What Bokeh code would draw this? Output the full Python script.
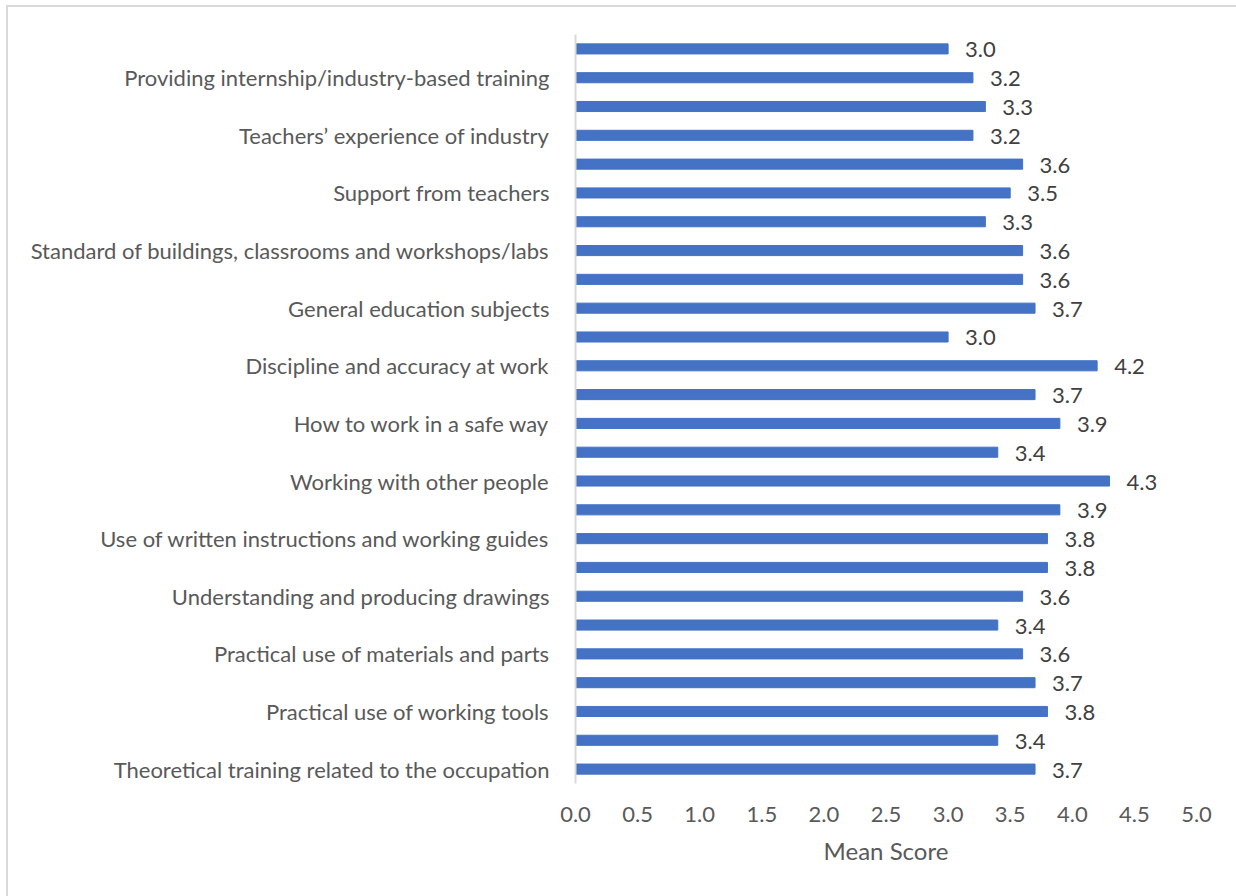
from bokeh.plotting import figure
from bokeh.models import ColumnDataSource, FixedTicker, LabelSet
from bokeh.core.properties import value
from bokeh.embed import file_html
from bokeh.resources import INLINE

# Categories (bottom to top); only every other bar carries a visible axis label
labels = [
    "Theoretical training related to the occupation",
    "Practical use of working tools",
    "Practical use of materials and parts",
    "Understanding and producing drawings",
    "Use of written instructions and working guides",
    "Working with other people",
    "How to work in a safe way",
    "Discipline and accuracy at work",
    "General education subjects",
    "Standard of buildings, classrooms and workshops/labs",
    "Support from teachers",
    "Teachers\u2019 experience of industry",
    "Providing internship/industry-based training",
]
# Mean scores, bottom bar to top bar
values = [3.7, 3.4, 3.8, 3.7, 3.6, 3.4, 3.6, 3.8, 3.8, 3.9, 4.3, 3.4, 3.9,
          3.7, 4.2, 3.0, 3.7, 3.6, 3.6, 3.3, 3.5, 3.6, 3.2, 3.3, 3.2, 3.0]
x_ticks = [0.0, 0.5, 1.0, 1.5, 2.0, 2.5, 3.0, 3.5, 4.0, 4.5, 5.0]

pos = list(range(len(values)))
src = ColumnDataSource(dict(y=pos, v=values, t=["%.1f" % v for v in values]))

FONT = "Lato"
FS = "22px"
p = figure(width=1230, height=891, x_range=(0, 5), y_range=(-0.5, len(values) - 0.5),
           output_backend="svg", toolbar_location=None,
           min_border_left=567, min_border_right=42, min_border_top=27, min_border_bottom=115)
p.margin = (5, 0, 0, 6)
p.styles = {"border-top": "2px solid #d9d9d9", "border-left": "2px solid #d9d9d9"}
p.outline_line_color = None
p.grid.grid_line_color = None
p.background_fill_color = "white"
p.border_fill_color = "white"

p.hbar(y="y", right="v", left=0, height=0.35, source=src, color="#4472C4")

lbl = LabelSet(x="v", y="y", text="t", source=src, x_offset=17, y_offset=-1,
               text_baseline="middle", text_align="left", text_font=value(FONT),
               text_font_size=FS, text_color="#404040")
p.add_layout(lbl)

p.xaxis.ticker = FixedTicker(ticks=x_ticks)
p.xaxis.major_label_overrides = {t: "%.1f" % t for t in x_ticks}
p.xaxis.axis_line_color = None
p.xaxis.major_tick_line_color = None
p.xaxis.minor_tick_line_color = None
p.xaxis.major_label_standoff = 17
p.xaxis.major_label_text_font = FONT
p.xaxis.major_label_text_font_size = FS
p.xaxis.major_label_text_color = "#595959"
p.xaxis.axis_label = "Mean Score"
p.xaxis.axis_label_text_font = FONT
p.xaxis.axis_label_text_font_size = "24px"
p.xaxis.axis_label_text_font_style = "normal"
p.xaxis.axis_label_text_color = "#595959"
p.xaxis.axis_label_standoff = 11

label_pos = [2 * i for i in range(len(labels))]
p.yaxis.ticker = FixedTicker(ticks=label_pos)
p.yaxis.major_label_overrides = {lp: lab for lp, lab in zip(label_pos, labels)}
p.yaxis.axis_line_color = "#d9d9d9"
p.yaxis.axis_line_width = 2
p.yaxis.major_tick_line_color = None
p.yaxis.minor_tick_line_color = None
p.yaxis.major_label_standoff = 20
p.yaxis.major_label_text_font = FONT
p.yaxis.major_label_text_font_size = FS
p.yaxis.major_label_text_color = "#595959"

open("out.html", "w").write(file_html(p, INLINE))
